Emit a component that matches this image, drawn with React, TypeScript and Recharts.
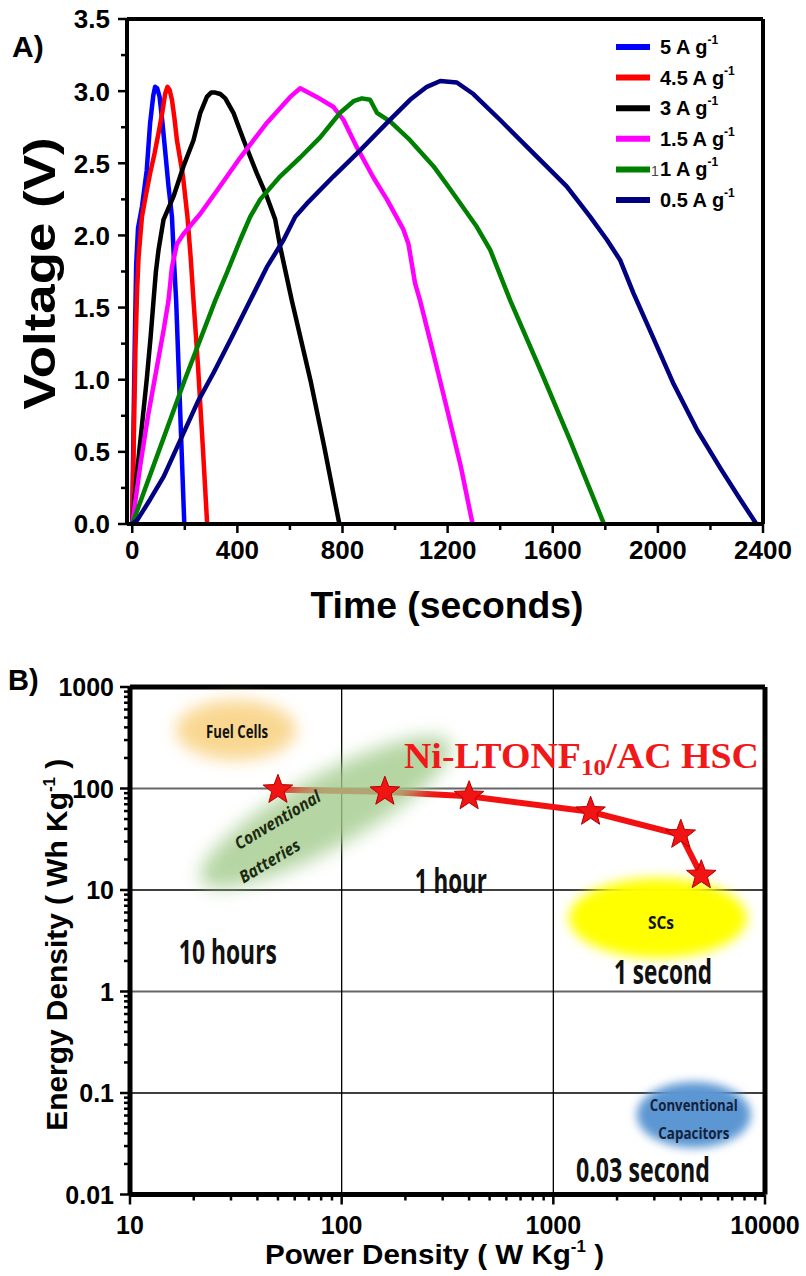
import React from 'react';
import { LineChart, Line, XAxis, YAxis, ReferenceLine, ReferenceDot, Legend } from 'recharts';

const SANS = '"Liberation Sans", Arial, Helvetica, sans-serif';
const NOTE = '"Open Sans", "Noto Sans", sans-serif';
const SERIF = '"Liberation Serif", "Times New Roman", serif';

// ---- Panel A: galvanostatic charge/discharge curves (time s, voltage V) ----
const time5 = [0, 5, 10, 15, 22, 37, 55, 68, 80, 87, 95, 104, 115, 125, 138, 151, 160, 167, 178, 188, 198];
const volt5 = [0, 0.7, 1.3, 1.8, 2.05, 2.2, 2.45, 2.78, 2.97, 3.03, 3.02, 2.96, 2.78, 2.59, 2.34, 2.13, 1.78, 1.55, 1.0, 0.5, 0];

const time45 = [0, 6, 12, 18, 24, 37, 52, 68, 85, 100, 115, 125, 134, 142, 151, 160, 170, 182, 193, 210, 223, 233, 250, 268, 285];
const volt45 = [0, 0.6, 1.2, 1.6, 1.85, 2.13, 2.28, 2.43, 2.57, 2.71, 2.86, 2.98, 3.03, 3.01, 2.94, 2.82, 2.66, 2.53, 2.41, 2.13, 1.83, 1.55, 1.1, 0.55, 0];

const time3 = [0, 15, 35, 55, 70, 81, 90, 100, 119, 157, 195, 233, 259, 284, 300, 316, 335, 354, 385, 424, 474, 512, 544, 563, 588, 607, 680, 730, 788];
const volt3 = [0, 0.3, 0.65, 1.0, 1.3, 1.55, 1.75, 1.9, 2.11, 2.27, 2.48, 2.66, 2.85, 2.96, 2.99, 2.99, 2.98, 2.95, 2.85, 2.66, 2.43, 2.27, 2.11, 1.92, 1.71, 1.55, 0.98, 0.54, 0];

const time15 = [0, 30, 60, 90, 120, 138, 151, 170, 195, 259, 322, 411, 512, 601, 639, 702, 766, 804, 855, 918, 969, 1032, 1051, 1076, 1095, 1150, 1200, 1250, 1295];
const volt15 = [0, 0.4, 0.75, 1.05, 1.35, 1.55, 1.78, 1.94, 2.01, 2.15, 2.31, 2.54, 2.78, 2.96, 3.02, 2.96, 2.89, 2.8, 2.61, 2.4, 2.25, 2.04, 1.94, 1.67, 1.55, 1.15, 0.78, 0.4, 0];

const time1 = [0, 100, 200, 316, 360, 411, 449, 487, 563, 639, 715, 791, 842, 874, 905, 931, 981, 1057, 1146, 1210, 1311, 1362, 1438, 1557, 1666, 1795];
const volt1 = [0, 0.5, 1.0, 1.55, 1.74, 1.97, 2.13, 2.25, 2.41, 2.54, 2.68, 2.85, 2.93, 2.95, 2.94, 2.85, 2.79, 2.66, 2.48, 2.32, 2.06, 1.9, 1.55, 1.05, 0.58, 0];

const time05 = [0, 20, 68, 120, 175, 250, 310, 380, 449, 512, 576, 620, 664, 766, 867, 969, 1057, 1121, 1172, 1235, 1298, 1400, 1526, 1653, 1742, 1806, 1856, 1907, 1980, 2060, 2150, 2240, 2310, 2375];
const volt05 = [0, 0.03, 0.17, 0.33, 0.55, 0.85, 1.05, 1.3, 1.55, 1.78, 1.97, 2.13, 2.22, 2.41, 2.59, 2.78, 2.94, 3.03, 3.07, 3.06, 2.98, 2.8, 2.57, 2.34, 2.13, 1.97, 1.83, 1.6, 1.3, 0.97, 0.65, 0.38, 0.18, 0];

const currentLabels = ['5', '4.5', '3', '1.5', '1', '0.5'];
const curveColors = ['#0000ff', '#ff0000', '#000000', '#ff00ff', '#008000', '#000080'];
const curveTimes = [time5, time45, time3, time15, time1, time05];
const curveVolts = [volt5, volt45, volt3, volt15, volt1, volt05];

const timeTicks = [0, 200, 400, 600, 800, 1000, 1200, 1400, 1600, 1800, 2000, 2200, 2400];
const voltTicks = [0, 0.25, 0.5, 0.75, 1, 1.25, 1.5, 1.75, 2, 2.25, 2.5, 2.75, 3, 3.25, 3.5];

// ---- Panel B: Ragone plot ----
const powerDensity = [50, 160, 400, 1500, 4000, 5000];
const energyDensity = [97, 93, 84, 59, 35, 14];

const decadesX = [10, 100, 1000, 10000];
const decadesY = [0.01, 0.1, 1, 10, 100, 1000];
const minorSteps = [2, 3, 4, 5, 6, 7, 8, 9];

const buildLogTicks = (decades: number[]) => {
  const out: number[] = [];
  decades.forEach((d, i) => {
    out.push(d);
    if (i < decades.length - 1) minorSteps.forEach((m) => out.push(+(d * m).toPrecision(6)));
  });
  return out;
};
const powerTicks = buildLogTicks(decadesX);
const energyTicks = buildLogTicks(decadesY);
const isDecade = (v: number) => Math.abs(Math.log10(v) - Math.round(Math.log10(v))) < 1e-9;

// ---- Tick renderers ----
const TimeTick = (props: any) => {
  const { x, y, payload } = props;
  const major = payload.value % 400 === 0;
  return (
    <g>
      <line x1={x} x2={x} y1={y} y2={y + (major ? 9 : 6)} stroke="#000" strokeWidth={2.5} />
      {major && (
        <text x={x} y={y + 35} textAnchor="middle" fontFamily={SANS} fontWeight="bold" fontSize={26} fill="#000">
          {payload.value}
        </text>
      )}
    </g>
  );
};

const VoltTick = (props: any) => {
  const { x, y, payload } = props;
  const v = payload.value;
  const major = Math.abs(v * 2 - Math.round(v * 2)) < 1e-6;
  return (
    <g>
      <line x1={x} x2={x - (major ? 9 : 6)} y1={y} y2={y} stroke="#000" strokeWidth={2.5} />
      {major && (
        <text x={x - 17} y={y} dy="0.36em" textAnchor="end" fontFamily={SANS} fontWeight="bold" fontSize={26} fill="#000">
          {v.toFixed(1)}
        </text>
      )}
    </g>
  );
};

const PowerTick = (props: any) => {
  const { x, y, payload } = props;
  const major = isDecade(payload.value);
  return (
    <g>
      <line x1={x} x2={x} y1={y} y2={y + (major ? 10 : 6)} stroke="#000" strokeWidth={2.5} />
      {major && (
        <text x={x} y={y + 39} textAnchor="middle" fontFamily={SANS} fontWeight="bold" fontSize={25} fill="#000">
          {payload.value}
        </text>
      )}
    </g>
  );
};

const EnergyTick = (props: any) => {
  const { x, y, payload } = props;
  const major = isDecade(payload.value);
  return (
    <g>
      <line x1={x} x2={x - (major ? 10 : 6)} y1={y} y2={y} stroke="#000" strokeWidth={2.5} />
      {major && (
        <text x={x - 16} y={y} dy="0.36em" textAnchor="end" fontFamily={SANS} fontWeight="bold" fontSize={25} fill="#000">
          {payload.value}
        </text>
      )}
    </g>
  );
};

// ---- Legend for panel A ----
const CurrentLegend = (props: any) => {
  const items = [...(props.payload || [])].sort(
    (a: any, b: any) => currentLabels.indexOf(a.value) - currentLabels.indexOf(b.value)
  );
  return (
    <svg width={200} height={200} style={{ position: 'absolute', left: 605, top: 30, overflow: 'visible' }}>
      {items.map((it: any, i: number) => {
        const y = 17 + i * 30.6;
        return (
          <g key={it.value}>
            <line x1={11} x2={45} y1={y} y2={y} stroke={it.color} strokeWidth={6} />
            {it.value === '1' && (
              <text x={46} y={y + 7} fontFamily={SANS} fontSize={14} fill="#444">1</text>
            )}
            <text x={55} y={y + 7} fontFamily={SANS} fontWeight="bold" fontSize={20} fill="#000">
              {`${it.value} A g`}
              <tspan dy={-10} fontSize={12}>-1</tspan>
            </text>
          </g>
        );
      })}
    </svg>
  );
};

// ---- Decorations for panel B ----
const Blob = ({ cx, cy, rx, ry, color, blur, angle = 0, opacity = 1, id }: any) => (
  <g>
    <defs>
      <filter id={id} x="-60%" y="-60%" width="220%" height="220%">
        <feGaussianBlur stdDeviation={blur} />
      </filter>
    </defs>
    <ellipse
      cx={cx}
      cy={cy}
      rx={rx}
      ry={ry}
      fill={color}
      opacity={opacity}
      filter={`url(#${id})`}
      transform={`rotate(${angle} ${cx} ${cy})`}
    />
  </g>
);

const Note = ({ cx, cy, text, size, width, color = '#111', italic = false, angle = 0, weight = 700 }: any) => (
  <text
    x={cx}
    y={cy}
    dy="0.35em"
    textAnchor="middle"
    fontFamily={NOTE}
    fontSize={size}
    fontWeight={weight}
    fontStyle={italic ? 'italic' : 'normal'}
    fill={color}
    textLength={width}
    lengthAdjust="spacingAndGlyphs"
    transform={`rotate(${angle} ${cx} ${cy})`}
  >
    {text}
  </text>
);

const starPath = (cx: number, cy: number, R: number, r: number) => {
  let d = '';
  for (let i = 0; i < 10; i++) {
    const a = -Math.PI / 2 + (i * Math.PI) / 5;
    const rad = i % 2 === 0 ? R : r;
    d += (i === 0 ? 'M' : 'L') + (cx + rad * Math.cos(a)).toFixed(2) + ',' + (cy + rad * Math.sin(a)).toFixed(2);
  }
  return d + 'Z';
};

const renderStar = (p: any) => (
  <path key={`star-${p.index}`} d={starPath(p.cx, p.cy, 15.5, 6.5)} fill="#f01414" stroke="#b30000" strokeWidth={1} />
);

const ragoneData = powerDensity.map((p, i) => ({ power: p, energy: energyDensity[i] }));

export default function App() {
  return (
    <div style={{ position: 'absolute', left: 0, top: 0, width: 806, height: 1276, background: '#fff' }}>
      {/* Panel A */}
      <div style={{ position: 'absolute', left: 0, top: 0 }}>
        <LineChart width={806} height={640} margin={{ top: 19, right: 43, bottom: 56, left: 67 }}>
          <XAxis
            type="number"
            dataKey="t"
            domain={[-20, 2400]}
            ticks={timeTicks}
            interval={0}
            allowDataOverflow
            tickSize={0}
            tickMargin={0}
            tickLine={false}
            axisLine={{ stroke: '#000', strokeWidth: 4 }}
            tick={<TimeTick />}
            height={60}
            label={{
              content: (p: any) => {
                const vb = p.viewBox;
                return (
                  <text x={vb.x + vb.width / 2 + 2} y={vb.y + 94} textAnchor="middle" fontFamily={SANS} fontWeight="bold" fontSize={37} fill="#000" textLength={273} lengthAdjust="spacingAndGlyphs">
                    Time (seconds)
                  </text>
                );
              },
            }}
          />
          <YAxis
            type="number"
            domain={[0, 3.5]}
            ticks={voltTicks}
            interval={0}
            allowDataOverflow
            tickSize={0}
            tickMargin={0}
            tickLine={false}
            axisLine={{ stroke: '#000', strokeWidth: 4 }}
            tick={<VoltTick />}
            width={60}
            label={{
              content: (p: any) => {
                const vb = p.viewBox;
                const cx = vb.x - 12;
                const cy = vb.y + vb.height / 2 + 2;
                return (
                  <text x={cx} y={cy} textAnchor="middle" fontFamily={SANS} fontWeight="bold" fontSize={44} fill="#000" textLength={272} lengthAdjust="spacingAndGlyphs" transform={`rotate(-90 ${cx} ${cy})`}>
                    Voltage (V)
                  </text>
                );
              },
            }}
          />
          <ReferenceLine y={3.5} stroke="#000" strokeWidth={4} />
          <ReferenceLine x={2400} stroke="#000" strokeWidth={4} />
          {currentLabels.map((name, k) => (
            <Line
              key={name}
              name={name}
              data={curveTimes[k].map((t, i) => ({ t, v: curveVolts[k][i] }))}
              dataKey="v"
              type="linear"
              stroke={curveColors[k]}
              strokeWidth={4.5}
              strokeLinejoin="round"
              dot={false}
              activeDot={false}
              isAnimationActive={false}
            />
          ))}
          <Legend content={<CurrentLegend />} wrapperStyle={{ left: 0, top: 0, bottom: 'auto', width: 806, height: 0 }} />
        </LineChart>
      </div>

      {/* Panel B */}
      <div style={{ position: 'absolute', left: 0, top: 660 }}>
        <LineChart width={806} height={616} data={ragoneData} margin={{ top: 27, right: 41, bottom: 31.5, left: 70 }}>
          <XAxis
            type="number"
            dataKey="power"
            scale="log"
            domain={[10, 10000]}
            ticks={powerTicks}
            interval={0}
            allowDataOverflow
            tickSize={0}
            tickMargin={0}
            tickLine={false}
            axisLine={{ stroke: '#000', strokeWidth: 5 }}
            tick={<PowerTick />}
            height={50}
            label={{
              content: (p: any) => {
                const vb = p.viewBox;
                return (
                  <text x={vb.x + vb.width / 2 - 13} y={vb.y + 69} textAnchor="middle" fontFamily={SANS} fontWeight="bold" fontSize={28} fill="#000" textLength={339} lengthAdjust="spacingAndGlyphs">
                    Power Density ( W Kg<tspan dy={-12} fontSize={16}>-1</tspan><tspan dy={12}> )</tspan>
                  </text>
                );
              },
            }}
          />
          <YAxis
            type="number"
            dataKey="energy"
            scale="log"
            domain={[0.01, 1000]}
            ticks={energyTicks}
            interval={0}
            allowDataOverflow
            tickSize={0}
            tickMargin={0}
            tickLine={false}
            axisLine={{ stroke: '#000', strokeWidth: 5 }}
            tick={<EnergyTick />}
            width={60}
            label={{
              content: (p: any) => {
                const vb = p.viewBox;
                const cx = vb.x - 3;
                const cy = vb.y + vb.height / 2 + 4;
                return (
                  <text x={cx} y={cy} textAnchor="middle" fontFamily={SANS} fontWeight="bold" fontSize={30} fill="#000" textLength={372} lengthAdjust="spacingAndGlyphs" transform={`rotate(-90 ${cx} ${cy})`}>
                    Energy Density ( Wh Kg<tspan dy={-12} fontSize={17}>-1</tspan><tspan dy={12}> )</tspan>
                  </text>
                );
              },
            }}
          />
          {/* decade grid */}
          <ReferenceLine y={100} stroke="#666" strokeWidth={2} />
          <ReferenceLine y={1} stroke="#666" strokeWidth={2} />
          <ReferenceLine y={10} stroke="#000" strokeWidth={1.3} />
          <ReferenceLine y={0.1} stroke="#000" strokeWidth={1.3} />
          <ReferenceLine x={100} stroke="#000" strokeWidth={1.3} />
          <ReferenceLine x={1000} stroke="#000" strokeWidth={1.3} />
          <ReferenceLine y={1000} stroke="#000" strokeWidth={5} />
          <ReferenceLine x={10000} stroke="#000" strokeWidth={5} />

          {/* device-class regions */}
          <ReferenceDot x={31.7} y={377} r={0} shape={(p: any) => (
            <g>
              <Blob id="fuel" cx={p.cx} cy={p.cy} rx={60} ry={30} color="#f9d58c" blur={8} opacity={0.95} />
              <Note cx={p.cx + 1} cy={p.cy + 2} text="Fuel Cells" size={17} width={62} />
            </g>
          )} />
          <ReferenceDot x={84} y={58.6} r={0} shape={(p: any) => (
            <g>
              <Blob id="batt" cx={p.cx} cy={p.cy} rx={142} ry={36} color="#a3cb8c" blur={9} angle={-29} opacity={0.8} />
              <Note cx={p.cx - 48} cy={p.cy + 8} text="Conventional" size={17} width={97} italic angle={-31} color="#1d2a12" />
              <Note cx={p.cx - 56} cy={p.cy + 49} text="Batteries" size={17} width={68} italic angle={-31} color="#1d2a12" />
            </g>
          )} />
          <ReferenceDot x={3120} y={5.3} r={0} shape={(p: any) => (
            <g>
              <Blob id="scs" cx={p.cx} cy={p.cy} rx={89} ry={40} color="#ffff00" blur={6} />
              <Note cx={p.cx + 3} cy={p.cy + 5} text="SCs" size={18} width={26} />
            </g>
          )} />
          <ReferenceDot x={4610} y={0.061} r={0} shape={(p: any) => (
            <g>
              <Blob id="caps" cx={p.cx} cy={p.cy} rx={57} ry={33} color="#5b96d3" blur={5} />
              <Note cx={p.cx} cy={p.cy - 9} text="Conventional" size={16} width={88} color="#14213a" />
              <Note cx={p.cx} cy={p.cy + 19} text="Capacitors" size={16} width={71} color="#14213a" />
            </g>
          )} />

          {/* discharge-time labels */}
          <ReferenceDot x={328} y={12.2} r={0} shape={(p: any) => <Note cx={p.cx} cy={p.cy} text="1 hour" size={34} width={72} />} />
          <ReferenceDot x={29} y={2.45} r={0} shape={(p: any) => <Note cx={p.cx} cy={p.cy} text="10 hours" size={34} width={98} />} />
          <ReferenceDot x={3300} y={1.56} r={0} shape={(p: any) => <Note cx={p.cx} cy={p.cy} text="1 second" size={34} width={98} />} />
          <ReferenceDot x={2650} y={0.0175} r={0} shape={(p: any) => <Note cx={p.cx} cy={p.cy} text="0.03 second" size={34} width={134} />} />

          <Line
            dataKey="energy"
            type="linear"
            stroke="#f21010"
            strokeWidth={6}
            dot={renderStar}
            activeDot={false}
            isAnimationActive={false}
          />

          <ReferenceDot x={197} y={159} r={0} shape={(p: any) => (
            <text x={p.cx} y={p.cy} fontFamily={SERIF} fontWeight="bold" fontSize={36} fill="#f01818" textLength={355} lengthAdjust="spacingAndGlyphs">
              Ni-LTONF<tspan dy={7} fontSize={24}>10</tspan><tspan dy={-7}>/AC HSC</tspan>
            </text>
          )} />
        </LineChart>
      </div>

      {/* panel letters */}
      <svg width={806} height={1276} style={{ position: 'absolute', left: 0, top: 0, pointerEvents: 'none' }}>
        <text x={12} y={57} fontFamily={SANS} fontWeight="bold" fontSize={30} fill="#000">A)</text>
        <text x={8} y={690} fontFamily={SANS} fontWeight="bold" fontSize={29} fill="#000">B)</text>
      </svg>
    </div>
  );
}
